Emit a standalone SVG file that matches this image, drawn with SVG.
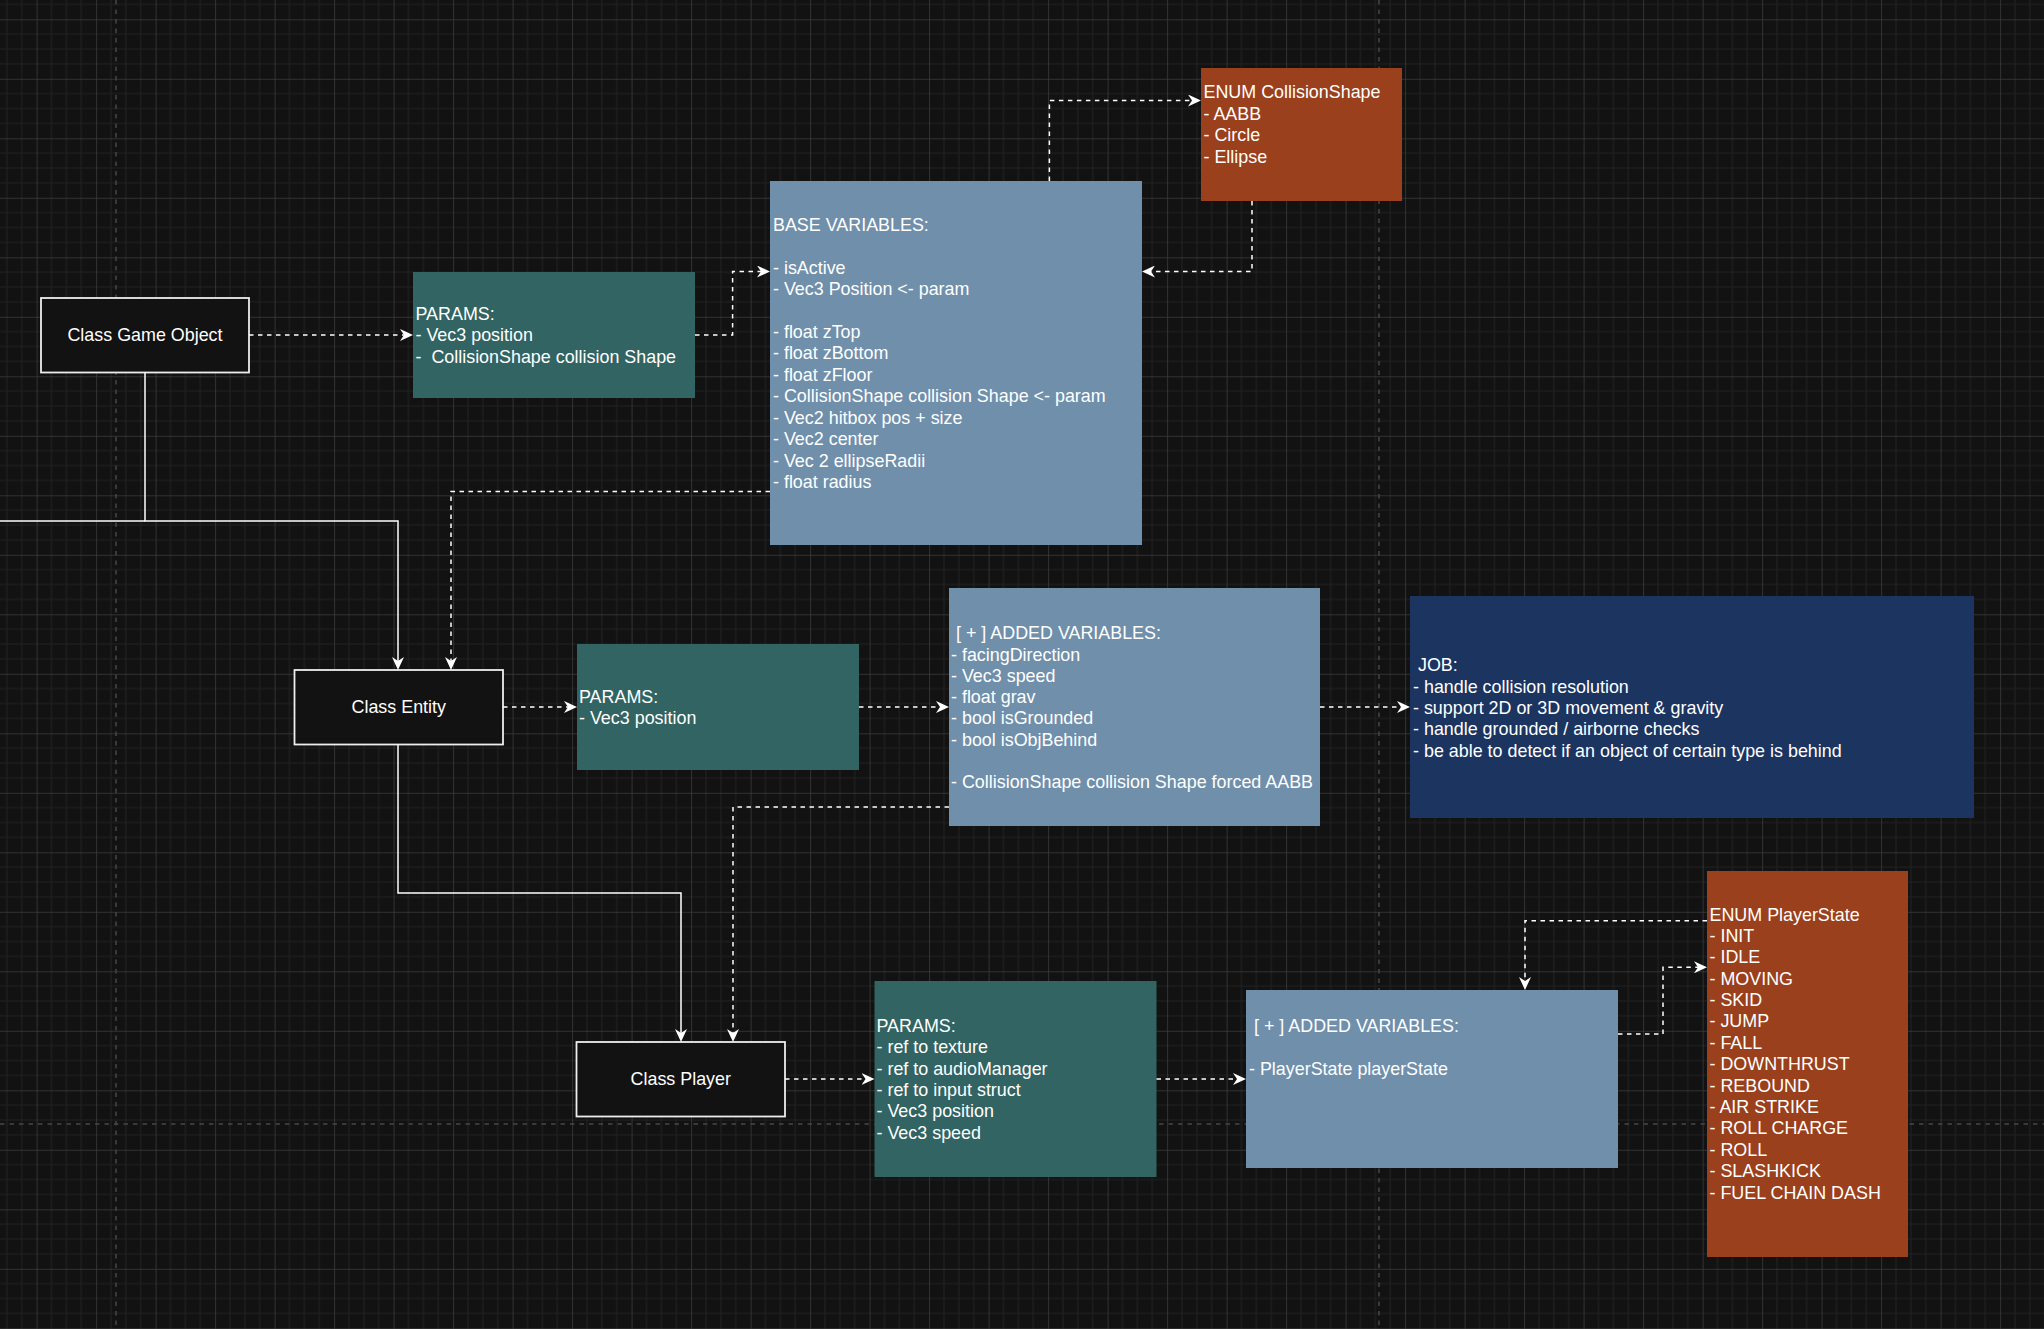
<svg xmlns="http://www.w3.org/2000/svg" width="2044" height="1329" viewBox="0 0 2044 1329">
<style>
.t{font-family:"Liberation Sans",Arial,Helvetica,sans-serif;font-size:17.9px;fill:#ffffff;white-space:pre}
.c{text-anchor:middle}
.cls{fill:#121212;stroke:#eeeeee;stroke-width:1.8}
.teal{fill:#316462}
.slate{fill:#6f8fab}
.orange{fill:#9a401c}
.navy{fill:#1b3460}
.e{fill:none;stroke:#ffffff;stroke-width:1.5}
.d{stroke-dasharray:4.5 4.5}
.pb{fill:none;stroke:#474747;stroke-width:1.5;stroke-dasharray:4.5 5}
</style>
<defs>
<pattern id="grid" x="36.6" y="19.3" width="59.5" height="59.5" patternUnits="userSpaceOnUse">
<path d="M14.875,0V59.5M29.75,0V59.5M44.625,0V59.5M0,14.875H59.5M0,29.75H59.5M0,44.625H59.5" fill="none" stroke="#222222" stroke-width="1"/>
<path d="M0,0V59.5M0,0H59.5" fill="none" stroke="#3c3c3c" stroke-width="1.5"/>
</pattern>
<marker id="ar" viewBox="0 0 13 12" markerWidth="13" markerHeight="12" refX="4" refY="6" orient="auto" markerUnits="userSpaceOnUse">
<path d="M13,6L0,0L4,6L0,12Z" fill="#ffffff"/>
</marker>
</defs>
<rect width="2044" height="1329" fill="#121212"/>
<rect width="2044" height="1329" fill="url(#grid)"/>
<g id="page-breaks">
<path class="pb" d="M116,0V1329M1379,0V1329M0,1124H2044"/>
</g>

<g id="class-game-object">
<rect class="cls" x="41" y="298" width="208" height="74.5"/>
<text class="t c" x="145" y="341.4">Class Game Object</text>
</g>

<g id="params-game-object">
<rect class="teal" x="413" y="272" width="282" height="126"/>
<text class="t" x="415.5" y="319.8">PARAMS:</text>
<text class="t" x="415.5" y="341.2">- Vec3 position</text>
<text class="t" x="415.5" y="362.6">-  CollisionShape collision Shape</text>
</g>

<g id="base-variables">
<rect class="slate" x="770" y="181" width="372" height="364"/>
<text class="t" x="773" y="230.7">BASE VARIABLES:</text>
<text class="t" x="773" y="273.6">- isActive</text>
<text class="t" x="773" y="295.05">- Vec3 Position &lt;- param</text>
<text class="t" x="773" y="337.95">- float zTop</text>
<text class="t" x="773" y="359.4">- float zBottom</text>
<text class="t" x="773" y="380.85">- float zFloor</text>
<text class="t" x="773" y="402.3">- CollisionShape collision Shape &lt;- param</text>
<text class="t" x="773" y="423.75">- Vec2 hitbox pos + size</text>
<text class="t" x="773" y="445.2">- Vec2 center</text>
<text class="t" x="773" y="466.65">- Vec 2 ellipseRadii</text>
<text class="t" x="773" y="488.1">- float radius</text>
</g>

<g id="enum-collision-shape">
<rect class="orange" x="1201" y="68" width="201" height="133"/>
<text class="t" x="1203.5" y="98.2">ENUM CollisionShape</text>
<text class="t" x="1203.5" y="119.6">- AABB</text>
<text class="t" x="1203.5" y="141.1">- Circle</text>
<text class="t" x="1203.5" y="162.5">- Ellipse</text>
</g>

<g id="class-entity">
<rect class="cls" x="294.5" y="670" width="208.5" height="74.5"/>
<text class="t c" x="398.75" y="713.4">Class Entity</text>
</g>

<g id="params-entity">
<rect class="teal" x="577" y="644" width="282" height="126"/>
<text class="t" x="579" y="702.5">PARAMS:</text>
<text class="t" x="579" y="723.9">- Vec3 position</text>
</g>

<g id="entity-added-variables">
<rect class="slate" x="949" y="588" width="371" height="238"/>
<text class="t" x="951" y="639.2"> [ + ] ADDED VARIABLES:</text>
<text class="t" x="951" y="660.5">- facingDirection</text>
<text class="t" x="951" y="681.8">- Vec3 speed</text>
<text class="t" x="951" y="703.1">- float grav</text>
<text class="t" x="951" y="724.4">- bool isGrounded</text>
<text class="t" x="951" y="745.7">- bool isObjBehind</text>
<text class="t" x="951" y="788.3">- CollisionShape collision Shape forced AABB</text>
</g>

<g id="entity-job">
<rect class="navy" x="1410" y="596" width="564" height="222"/>
<text class="t" x="1413" y="671.2"> JOB:</text>
<text class="t" x="1413" y="692.6">- handle collision resolution</text>
<text class="t" x="1413" y="714">- support 2D or 3D movement &amp; gravity</text>
<text class="t" x="1413" y="735.4">- handle grounded / airborne checks</text>
<text class="t" x="1413" y="756.8">- be able to detect if an object of certain type is behind</text>
</g>

<g id="class-player">
<rect class="cls" x="576.5" y="1042" width="208.5" height="74.5"/>
<text class="t c" x="680.75" y="1085.4">Class Player</text>
</g>

<g id="params-player">
<rect class="teal" x="874.5" y="981" width="282" height="196"/>
<text class="t" x="876.5" y="1031.7">PARAMS:</text>
<text class="t" x="876.5" y="1053.1">- ref to texture</text>
<text class="t" x="876.5" y="1074.5">- ref to audioManager</text>
<text class="t" x="876.5" y="1095.9">- ref to input struct</text>
<text class="t" x="876.5" y="1117.3">- Vec3 position</text>
<text class="t" x="876.5" y="1138.7">- Vec3 speed</text>
</g>

<g id="player-added-variables">
<rect class="slate" x="1246" y="990" width="372" height="178"/>
<text class="t" x="1249" y="1032.2"> [ + ] ADDED VARIABLES:</text>
<text class="t" x="1249" y="1075.2">- PlayerState playerState</text>
</g>

<g id="enum-player-state">
<rect class="orange" x="1707" y="871" width="201" height="386"/>
<text class="t" x="1709.5" y="920.5">ENUM PlayerState</text>
<text class="t" x="1709.5" y="941.9">- INIT</text>
<text class="t" x="1709.5" y="963.3">- IDLE</text>
<text class="t" x="1709.5" y="984.6">- MOVING</text>
<text class="t" x="1709.5" y="1006">- SKID</text>
<text class="t" x="1709.5" y="1027.4">- JUMP</text>
<text class="t" x="1709.5" y="1048.8">- FALL</text>
<text class="t" x="1709.5" y="1070.2">- DOWNTHRUST</text>
<text class="t" x="1709.5" y="1091.5">- REBOUND</text>
<text class="t" x="1709.5" y="1112.9">- AIR STRIKE</text>
<text class="t" x="1709.5" y="1134.3">- ROLL CHARGE</text>
<text class="t" x="1709.5" y="1155.7">- ROLL</text>
<text class="t" x="1709.5" y="1177.1">- SLASHKICK</text>
<text class="t" x="1709.5" y="1198.5">- FUEL CHAIN DASH</text>
</g>

<g id="connectors">
<path class="e" d="M0,521H145"/>
<path class="e" d="M145,372.5V521H398V661" marker-end="url(#ar)"/>
<path class="e" d="M398,744.5V893H681V1033" marker-end="url(#ar)"/>
<path class="e d" d="M249,335H404" marker-end="url(#ar)"/>
<path class="e d" d="M695,335H732.6V271.5H761" marker-end="url(#ar)"/>
<path class="e d" d="M1049.4,181V100.5H1192" marker-end="url(#ar)"/>
<path class="e d" d="M1252,201V271.5H1151" marker-end="url(#ar)"/>
<path class="e d" d="M770,491.5H451V661" marker-end="url(#ar)"/>
<path class="e d" d="M503,707H568" marker-end="url(#ar)"/>
<path class="e d" d="M859,707H940" marker-end="url(#ar)"/>
<path class="e d" d="M1320,707H1401" marker-end="url(#ar)"/>
<path class="e d" d="M949,807H733V1033" marker-end="url(#ar)"/>
<path class="e d" d="M785,1079H865.5" marker-end="url(#ar)"/>
<path class="e d" d="M1156.5,1079H1237" marker-end="url(#ar)"/>
<path class="e d" d="M1618,1034H1663V967.3H1698" marker-end="url(#ar)"/>
<path class="e d" d="M1707,920.7H1525V981" marker-end="url(#ar)"/>
</g>
</svg>
